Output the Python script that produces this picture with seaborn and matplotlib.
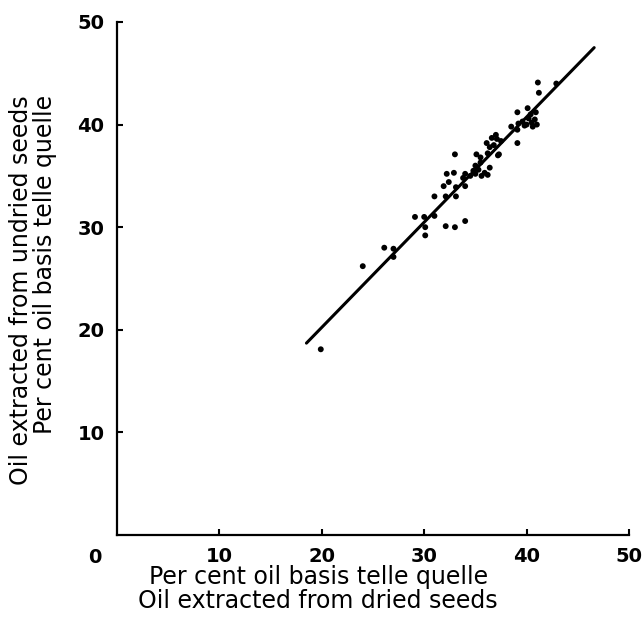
import numpy as np
import matplotlib
matplotlib.use('Agg')
import matplotlib.pyplot as plt
import seaborn as sns
import pandas as pd

# oil content, dried vs undried seeds
dried = [19.9, 24.0, 26.1, 27.0, 27.0, 29.1, 30.0, 30.1, 30.1, 31.0,
         32.1, 33.0, 34.0, 31.0, 32.1, 33.1, 31.9, 32.4, 32.2, 32.9,
         33.0, 33.1, 34.0, 34.0, 35.1, 34.5, 35.0, 35.3, 35.6, 35.9,
         36.2, 35.0, 35.5, 36.4, 34.8, 36.2, 37.2, 36.1, 36.6, 37.0,
         37.3, 36.8, 37.5, 37.1, 36.4, 39.1, 39.1, 39.2, 39.1, 39.6,
         40.0, 40.2, 40.5, 40.8, 40.1, 40.4, 40.9, 41.0, 39.8, 40.6,
         41.1, 41.2, 42.9, 38.5, 35.5, 33.8]
undried = [18.1, 26.2, 28.0, 27.9, 27.1, 31.0, 31.0, 30.0, 29.2, 31.1,
           30.1, 30.0, 30.6, 33.0, 33.0, 33.0, 34.0, 34.4, 35.2, 35.3,
           37.1, 33.9, 34.0, 35.2, 37.1, 35.0, 35.2, 35.6, 35.0, 35.3,
           35.1, 36.0, 36.3, 35.8, 35.5, 37.2, 37.0, 38.2, 38.7, 39.0,
           37.1, 38.0, 38.4, 38.6, 37.8, 38.2, 39.5, 40.1, 41.2, 40.3,
           40.0, 40.6, 40.2, 40.5, 41.6, 41.0, 41.2, 40.0, 39.9, 39.8,
           44.1, 43.1, 44.0, 39.8, 36.8, 34.8]

# fitted line end points
fit_x = [18.5, 46.6]
fit_y = [18.7, 47.5]

ticks = [10, 20, 30, 40, 50]

sns.set_style('ticks')
plt.rcParams['font.family'] = ['DejaVu Sans']
plt.rcParams['text.color'] = 'black'

df = pd.DataFrame({'dried': dried, 'undried': undried})
fit = pd.DataFrame({'x': fit_x, 'y': fit_y})

fig = plt.figure(figsize=(6.44, 6.28), dpi=100)
ax = fig.add_axes([0.1817, 0.1481, 0.795, 0.8169])

sns.scatterplot(data=df, x='dried', y='undried', color='black', s=18,
                edgecolor='none', ax=ax)
sns.lineplot(data=fit, x='x', y='y', color='black', lw=2.2, ax=ax)

ax.set_xlim(0, 50)
ax.set_ylim(0, 50)
ax.set_xticks(ticks)
ax.set_yticks(ticks)
ax.set_xlabel('')
ax.set_ylabel('')
sns.despine(ax=ax)
for s in ['left', 'bottom']:
    ax.spines[s].set_linewidth(1.6)
    ax.spines[s].set_color('black')
ax.tick_params(direction='in', length=4, width=1.5, pad=9,
               labelsize=14, colors='black')
for lb in ax.get_xticklabels() + ax.get_yticklabels():
    lb.set_fontweight('bold')

# the lone corner zero
ax.text(-0.043, -0.025, '0', transform=ax.transAxes, ha='center', va='top',
        fontsize=14, fontweight='bold', color='black')

ax.text(0.393, -0.058, 'Per cent oil basis telle quelle\nOil extracted from dried seeds',
        transform=ax.transAxes, ha='center', va='top', fontsize=17,
        linespacing=1.02, color='black')
ax.text(-0.117, 0.478, 'Oil extracted from undried seeds\nPer cent oil basis telle quelle',
        transform=ax.transAxes, ha='right', va='center', rotation=90,
        fontsize=17, linespacing=1.02, color='black')

plt.savefig('out.png', dpi=100)
plt.close()
